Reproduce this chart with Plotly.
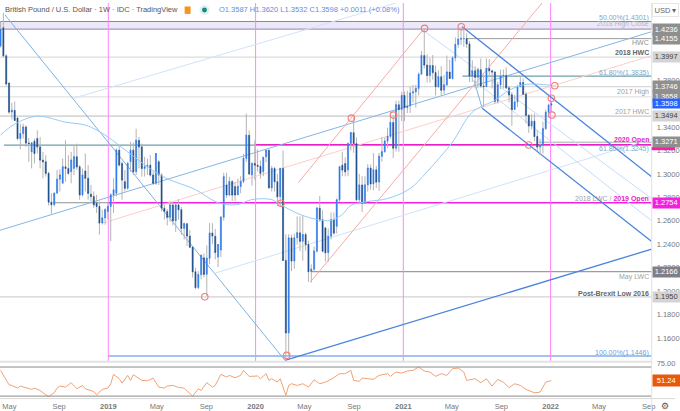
import pandas as pd
import plotly.graph_objects as go

# ---------- weekly GBP/USD candles ----------
first_week = "2018-04-09"
opens = [1.4093,1.4248,1.4008,1.3776,1.3528,1.3542,1.3477,1.3302,1.3344,1.3400,
1.3265,1.3188,1.3279,1.3302,1.3231,1.3118,1.3104,1.3005,1.2759,1.2737,
1.2835,1.2954,1.2920,1.3061,1.3047,1.3019,1.3047,1.3146,1.3061,1.2821,
1.3025,1.2963,1.2827,1.2807,1.2751,1.2722,1.2581,1.2624,1.2680,1.2722,
1.2821,1.2835,1.3203,1.3090,1.2934,1.2878,1.3104,1.3203,1.3019,1.3287,
1.3231,1.3047,1.3061,1.3075,1.2991,1.2920,1.3104,1.2991,1.2708,1.2680,
1.2630,1.2735,1.2600,1.2735,1.2695,1.2535,1.2575,1.2470,1.2375,1.2165,
1.2030,1.2140,1.2284,1.2143,1.2280,1.2496,1.2468,1.2290,1.2350,1.2630,
1.2906,1.2820,1.2935,1.2892,1.2821,1.2892,1.2935,1.3132,1.3330,1.2990,
1.3089,1.3075,1.3065,1.3019,1.3146,1.3202,1.2880,1.3047,1.2934,1.2805,
1.3047,1.2262,1.1643,1.2454,1.2256,1.2454,1.2497,1.2425,1.2482,1.2397,
1.2166,1.2186,1.2341,1.2708,1.2609,1.2540,1.2327,1.2468,1.2609,1.2553,
1.2779,1.3075,1.3089,1.3033,1.3259,1.3352,1.3259,1.2779,1.2906,1.2750,
1.2906,1.3050,1.2915,1.3035,1.2930,1.3150,1.3190,1.3280,1.3320,1.3440,
1.3220,1.3590,1.3550,1.3670,1.3565,1.3580,1.3690,1.3700,1.3730,1.3850,
1.4010,1.3930,1.3840,1.3925,1.3865,1.3745,1.3830,1.3715,1.3760,1.3870,
1.3815,1.3990,1.4105,1.4150,1.4155,1.4155,1.4110,1.3835,1.3880,1.3825,
1.3890,1.3750,1.3745,1.3900,1.3880,1.3870,1.3620,1.3760,1.3835,1.3840,
1.3735,1.3675,1.3550,1.3615,1.3745,1.3780,1.3680,1.3500,1.3410,1.3450,
1.3320,1.3230,1.3244,1.3386,1.3527,1.3587]
highs = [1.4304,1.4376,1.4022,1.3782,1.3607,1.3618,1.3485,1.3430,1.3429,1.3415,
1.3307,1.3273,1.3302,1.3372,1.3316,1.3188,1.3160,1.3019,1.2835,1.2835,
1.3033,1.3040,1.3132,1.3287,1.3160,1.3188,1.3245,1.3259,1.3075,1.3047,
1.3174,1.3075,1.2906,1.2850,1.2821,1.2765,1.2694,1.2708,1.2751,1.2835,
1.2963,1.3217,1.3245,1.3104,1.3033,1.3104,1.3273,1.3268,1.3386,1.3316,
1.3259,1.3146,1.3132,1.3160,1.3020,1.3174,1.3118,1.3005,1.2737,1.2700,
1.2770,1.2760,1.2740,1.2785,1.2720,1.2585,1.2580,1.2520,1.2380,1.2200,
1.2170,1.2310,1.2320,1.2390,1.2580,1.2580,1.2530,1.2400,1.2640,1.3010,
1.3010,1.2975,1.2950,1.2930,1.2960,1.2980,1.3170,1.3515,1.3370,1.3100,
1.3285,1.3210,1.3115,1.3150,1.3202,1.3210,1.3070,1.3060,1.3000,1.3050,
1.3200,1.2485,1.2486,1.2482,1.2490,1.2637,1.2637,1.2640,1.2498,1.2430,
1.2228,1.2380,1.2720,1.2812,1.2690,1.2540,1.2535,1.2670,1.2670,1.2790,
1.3070,1.3190,1.3140,1.3270,1.3360,1.3482,1.3310,1.3000,1.2980,1.2980,
1.3085,1.3080,1.3178,1.3070,1.3180,1.3315,1.3310,1.3395,1.3540,1.3502,
1.3625,1.3625,1.3700,1.3705,1.3710,1.3745,1.3760,1.3760,1.3865,1.4050,
1.4242,1.4020,1.3990,1.4015,1.3925,1.3885,1.3920,1.3845,1.4010,1.3975,
1.4005,1.4165,1.4235,1.4250,1.4250,1.4200,1.4135,1.3970,1.3920,1.3910,
1.3985,1.3840,1.3985,1.3980,1.3890,1.3880,1.3785,1.3890,1.3890,1.3910,
1.3750,1.3700,1.3675,1.3760,1.3835,1.3815,1.3700,1.3510,1.3510,1.3515,
1.3375,1.3300,1.3445,1.3550,1.3600,1.3620]
lows = [1.4078,1.3994,1.3754,1.3513,1.3465,1.3457,1.3287,1.3211,1.3302,1.3231,
1.3104,1.3047,1.3090,1.3175,1.3047,1.2963,1.2977,1.2731,1.2660,1.2722,
1.2835,1.2850,1.2920,1.2934,1.2991,1.2920,1.2991,1.3033,1.2779,1.2807,
1.2850,1.2779,1.2765,1.2708,1.2666,1.2482,1.2567,1.2567,1.2610,1.2426,
1.2666,1.2807,1.3061,1.2779,1.2850,1.2864,1.3019,1.2991,1.2991,1.3047,
1.2977,1.2977,1.2991,1.2977,1.2906,1.2906,1.2906,1.2680,1.2610,1.2560,
1.2590,1.2560,1.2505,1.2610,1.2480,1.2440,1.2385,1.2380,1.2115,1.2015,
1.2015,1.2100,1.2115,1.1958,1.2230,1.2400,1.2270,1.2205,1.2290,1.2600,
1.2795,1.2810,1.2770,1.2770,1.2820,1.2835,1.2920,1.3100,1.2990,1.2900,
1.2950,1.3020,1.2960,1.2980,1.3100,1.2870,1.2850,1.2850,1.2725,1.2725,
1.2260,1.1412,1.1450,1.2171,1.2190,1.2397,1.2340,1.2260,1.2345,1.2078,
1.2072,1.2165,1.2330,1.2590,1.2330,1.2252,1.2250,1.2440,1.2480,1.2490,
1.2760,1.2980,1.2980,1.2980,1.3200,1.3180,1.2765,1.2760,1.2675,1.2745,
1.2850,1.2865,1.2860,1.2880,1.2855,1.3105,1.3180,1.3220,1.3300,1.3135,
1.3190,1.3190,1.3450,1.3450,1.3520,1.3520,1.3610,1.3565,1.3670,1.3850,
1.3900,1.3780,1.3780,1.3805,1.3670,1.3735,1.3670,1.3680,1.3750,1.3815,
1.3805,1.3960,1.4075,1.4100,1.4085,1.4075,1.3785,1.3785,1.3730,1.3735,
1.3735,1.3570,1.3740,1.3825,1.3730,1.3600,1.3600,1.3725,1.3730,1.3725,
1.3610,1.3410,1.3545,1.3570,1.3740,1.3680,1.3430,1.3350,1.3380,1.3280,
1.3195,1.3160,1.3175,1.3375,1.3480,1.3532]
closes = [1.4234,1.4008,1.3768,1.3528,1.3542,1.3457,1.3302,1.3344,1.3400,1.3265,
1.3259,1.3265,1.3175,1.3231,1.3118,1.3104,1.3005,1.2759,1.2737,1.2835,
1.2954,1.2990,1.3061,1.3047,1.3005,1.3118,1.3146,1.3061,1.2821,1.2991,
1.2963,1.2835,1.2807,1.2737,1.2722,1.2581,1.2624,1.2694,1.2722,1.2821,
1.2864,1.3203,1.3076,1.2948,1.2878,1.3090,1.3203,1.3019,1.3287,1.3231,
1.3047,1.3061,1.3075,1.2991,1.2920,1.3174,1.2991,1.2708,1.2680,1.2630,
1.2735,1.2600,1.2735,1.2695,1.2535,1.2575,1.2470,1.2375,1.2165,1.2030,
1.2140,1.2305,1.2143,1.2280,1.2496,1.2470,1.2330,1.2397,1.2630,1.2976,
1.2820,1.2935,1.2820,1.2821,1.2892,1.2935,1.3132,1.3330,1.3000,1.3089,
1.3075,1.3065,1.3005,1.3140,1.3202,1.2883,1.3047,1.2934,1.2805,1.3047,
1.2262,1.1643,1.2454,1.2256,1.2454,1.2497,1.2425,1.2482,1.2397,1.2166,
1.2186,1.2341,1.2708,1.2609,1.2341,1.2327,1.2468,1.2609,1.2496,1.2779,
1.3061,1.3033,1.3019,1.3259,1.3352,1.3259,1.2779,1.2906,1.2750,1.2906,
1.3050,1.2915,1.3035,1.2930,1.3150,1.3190,1.3280,1.3320,1.3440,1.3220,
1.3590,1.3550,1.3670,1.3565,1.3580,1.3690,1.3700,1.3730,1.3850,1.4010,
1.3930,1.3840,1.3925,1.3865,1.3745,1.3830,1.3715,1.3760,1.3870,1.3815,
1.3990,1.4105,1.4150,1.4155,1.4155,1.4110,1.3835,1.3880,1.3825,1.3890,
1.3750,1.3745,1.3900,1.3880,1.3870,1.3620,1.3760,1.3835,1.3840,1.3735,
1.3675,1.3550,1.3615,1.3745,1.3780,1.3680,1.3500,1.3410,1.3450,1.3320,
1.3230,1.3244,1.3386,1.3527,1.3587,1.3598]

# moving average (week number, price)
ma_weeks = [0,5,13,23,30,34,38,45,53,59,69,76,80,84,89,96,99,106,112,117,121,124,130,137,145,151,160,167,175,180,186,195]
ma_vals = [1.3332,1.3425,1.3493,1.3442,1.3417,1.3375,1.3315,1.3188,1.3044,1.2959,1.2866,1.2764,1.2739,1.2739,1.2781,1.2781,1.2739,1.2654,1.2612,1.2603,1.2654,1.2731,1.2764,1.2790,1.2875,1.3019,1.3273,1.3527,1.3629,1.3714,1.3764,1.3756]

# RSI (week number, value)
rsi_weeks = [0,1,3,4,6,7,9,11,12,14,16,17,19,20,21,23,25,27,29,30,33,34,36,38,39,40,42,43,45,46,47,50,52,54,56,58,59,61,63,65,68,70,71,73,75,76,78,80,81,83,85,86,88,91,92,94,95,96,98,99,101,102,103,105,107,109,111,113,115,117,120,122,124,125,127,128,130,132,134,137,138,140,142,144,146,148,150,152,154,156,158,160,162,164,165,168,170,172,174,176,178,180,182,184,186,189,191,193,195]
rsi_vals = [65.4,58.5,45.6,44.7,41.0,43.8,41.0,39.2,41.0,37.8,31.8,29.5,34.6,41.0,43.8,42.4,48.4,40.1,44.7,40.1,36.4,31.8,39.2,41.0,47.0,59.9,53.9,47.9,58.5,51.6,59.4,51.6,51.1,54.8,42.4,41.0,43.8,44.7,41.9,41.0,30.0,40.1,37.8,48.4,42.4,44.7,59.9,56.2,58.5,55.3,58.5,65.4,57.1,57.6,53.9,60.8,51.6,53.9,49.3,53.9,30.9,44.7,47.0,44.7,47.0,42.4,52.5,47.0,49.3,53.0,60.8,60.8,65.4,51.6,50.2,54.8,53.9,53.0,58.5,60.8,57.1,63.1,61.7,64.5,65.4,70.0,64.5,63.1,57.1,60.8,58.5,67.7,68.6,63.1,51.6,53.9,48.4,53.9,43.8,53.0,49.3,41.5,47.0,44.7,39.2,34.6,35.5,49.3,51.24]

# pivot markers (week number, price)
pivot_weeks = [72.3,101.3,99.3,124.2,139.1,150.1,163.1,187.0,196.2,195.0,195.2]
pivot_vals = [1.1951,1.1451,1.2750,1.3476,1.3502,1.4242,1.4256,1.3247,1.3753,1.3646,1.3502]

# drawn trendlines: week0, price0, week1, price1, colour, width
W_L, W_R = -0.2, 230.5
P_LO, P_HI = 1.14, 1.4459
trendlines = [
    (1.55,1.4358,100.7,1.1408,"#7db1e3",1),
    (100.7,1.1408,230.5,1.2358,"#4a84de",1.3),
    (-0.2,1.2519,230.5,1.4214,"#86b5e6",1),
    (75.8,1.2152,230.5,1.3298,"#cfe2fb",1),
    (25.9,1.3646,140,1.4459,"#cfe2fb",1),
    (36.2,1.2581,230.5,1.4010,"#fbcfca",1),
    (105.4,1.2925,149.6,1.4231,"#f9a9a2",1),
    (109.7,1.2078,191.7,1.4459,"#f9a9a2",1),
    (163.4,1.4256,230.5,1.2976,"#4a84de",1.3),
    (170.5,1.3561,230.4,1.2425,"#4a84de",1.3),
    (167.6,1.3798,170.5,1.3561,"#7db1e3",1),
    (149.3,1.4231,230.5,1.2790,"#c6dcf8",1),
    (167.6,1.3798,230.5,1.2599,"#c6dcf8",1),
]
# horizontal levels: price, week0, week1, colour, width
levels = [
    (1.4155,164.8,W_R,"#9b9b9b",1),
    (1.3997,W_L,W_R,"#d2d2d2",1),
    (1.3835,163.5,W_R,"#6f9fa8",1.2),
    (1.3746,W_L,W_R,"#d8d8d8",1.2),
    (1.3658,W_L,W_R,"#e2e2e2",1.2),
    (1.3494,W_L,W_R,"#d8d8d8",1.8),
    (1.3271,190.6,W_R,"#a8a8a8",1),
    (1.3245,1.2,W_R,"#6f9fa8",1.2),
    (1.3250,89.8,W_R,"#e81fc8",1.3),
    (1.2754,18.5,38,"#909090",1),
    (1.2754,38,W_R,"#f51fe0",1.3),
    (1.2166,110,W_R,"#9a9aa8",1.2),
    (1.1950,W_L,W_R,"#d2d2d2",1.2),
    (1.1446,38,W_R,"#4a86d8",1.2),
]
year_lines = ["2019-01-01","2020-01-01","2021-01-01","2022-01-01"]

tick_dates = ["2018-05-01","2018-09-01","2019-01-01","2019-05-01","2019-09-01","2020-01-01","2020-05-01",
              "2020-09-01","2021-01-01","2021-05-01","2021-09-01","2022-01-01","2022-05-01","2022-09-01"]
tick_names = ["May","Sep","<b>2019</b>","May","Sep","<b>2020</b>","May","Sep","<b>2021</b>","May","Sep","<b>2022</b>","May","Sep"]
price_ticks = [1.16,1.18,1.20,1.22,1.24,1.26,1.28,1.30,1.32,1.34,1.38]

# chart labels: text, price, colour
level_notes = [
    ("50.00%(1.4301)",1.4332,"#7fa6c8"),
    ("2018 High Close",1.4277,"#b8b8b8"),
    ("HWC",1.4120,"#909090"),
    ("<b>2018 HWC</b>",1.4040,"#666666"),
    ("61.80%(1.3835)",1.3862,"#7fa6c8"),
    ("2017 High",1.3697,"#a0a0a0"),
    ("2017 HWC",1.3531,"#a0a0a0"),
    ("<b>2020 Open</b>",1.3290,"#e81fc8"),
    ("61.80%(1.3245)",1.3214,"#7fa6c8"),
    ("2018 LWC / <b><span style='color:#e81fc8'>2019 Open</span></b>",1.2790,"#a0a0a0"),
    ("May LWC",1.2120,"#a0a0a0"),
    ("<b>Post-Brexit Low 2016</b>",1.1981,"#666666"),
    ("100.00%(1.1446)",1.1468,"#6d9fde"),
]
# price-scale badges: text, price, background, text colour, height
badges = [
    ("1.4236",1.4236,"#8f8f8f","#ffffff",10.5),
    ("1.4155",1.4155,"#8f8f8f","#ffffff",10.5),
    ("1.3997",1.3997,"#d4d4d4","#444444",9.5),
    ("1.3746",1.3746,"#8f8f8f","#ffffff",11),
    ("1.3658",1.3658,"#8f8f8f","#ffffff",11),
    ("1.3494",1.3494,"#d4d4d4","#444444",9.5),
    ("1.3271",1.3271,"#8f8f8f","#ffffff",9.5),
    ("1.2754",1.2754,"#f51fe0","#ffffff",9.5),
    ("1.2166",1.2166,"#7f7f8a","#ffffff",9.5),
    ("1.1950",1.1950,"#d4d4d4","#444444",9.5),
]

# ---------- figure ----------
WIDTH, HEIGHT = 680, 411
PANE_R = 656.5
PLOT_R = PANE_R / WIDTH
start = pd.Timestamp(first_week)
def wk(i):
    return start + pd.Timedelta(days=7 * i)

weeks = [wk(i) for i in range(len(closes))]
fig = go.Figure()

# grey wicks, then coloured bodies on top
fig.add_trace(go.Candlestick(x=weeks, open=closes, close=closes, high=highs, low=lows,
    whiskerwidth=0, hoverinfo="skip", showlegend=False,
    increasing=dict(line=dict(color="#b4b4b4", width=1), fillcolor="#b4b4b4"),
    decreasing=dict(line=dict(color="#b4b4b4", width=1), fillcolor="#b4b4b4")))
fig.add_trace(go.Candlestick(x=weeks, open=opens, close=closes,
    high=[max(o, c) for o, c in zip(opens, closes)],
    low=[min(o, c) for o, c in zip(opens, closes)],
    whiskerwidth=0, hoverinfo="skip", showlegend=False,
    increasing=dict(line=dict(color="#2f7cf0", width=0.5), fillcolor="#2f7cf0"),
    decreasing=dict(line=dict(color="#20508f", width=0.5), fillcolor="#20508f")))

fig.add_trace(go.Scatter(x=[wk(i) for i in ma_weeks], y=ma_vals, mode="lines", hoverinfo="skip",
    line=dict(color="#94cbf7", width=1, shape="spline"), showlegend=False))
fig.add_trace(go.Scatter(x=[wk(i) for i in pivot_weeks], y=pivot_vals, mode="markers", hoverinfo="skip",
    marker=dict(symbol="circle-open", size=6.5, color="#ef7f78", line=dict(width=1.1, color="#ef7f78")),
    showlegend=False))
fig.add_trace(go.Scatter(x=[wk(i) for i in rsi_weeks], y=rsi_vals, yaxis="y2", mode="lines", hoverinfo="skip",
    line=dict(color="#f3a173", width=1), showlegend=False))

shapes = []
shapes.append(dict(type="rect", xref="x", yref="y", x0=wk(W_L), x1=wk(W_R), y0=1.4236, y1=1.4301,
                   fillcolor="#ece8f7", line=dict(color="#9180b8", width=1), layer="below"))
for y, a, b, col, w in levels:
    shapes.append(dict(type="line", xref="x", yref="y", x0=wk(a), x1=wk(b), y0=y, y1=y,
                       line=dict(color=col, width=w), layer="below"))
for d in year_lines:
    shapes.append(dict(type="line", xref="x", yref="y", x0=d, x1=d, y0=P_LO, y1=P_HI,
                       line=dict(color="#ff85ff", width=1), layer="below"))
for a, p, b, q, col, w in trendlines:
    shapes.append(dict(type="line", xref="x", yref="y", x0=wk(a), x1=wk(b), y0=p, y1=q,
                       line=dict(color=col, width=w), layer="below"))
for v in (70, 30):
    shapes.append(dict(type="line", xref="x", yref="y2", x0=wk(W_L), x1=wk(W_R), y0=v, y1=v,
                       line=dict(color="#8a8a8a", width=1)))
# pane frames
shapes.append(dict(type="line", xref="paper", yref="paper", x0=0, x1=PLOT_R, y0=1-361.5/HEIGHT, y1=1-361.5/HEIGHT,
                   line=dict(color="#e2e2e2", width=2)))
shapes.append(dict(type="line", xref="paper", yref="paper", x0=0, x1=1, y0=1-398.5/HEIGHT, y1=1-398.5/HEIGHT,
                   line=dict(color="#d8d8d8", width=1)))
shapes.append(dict(type="line", xref="paper", yref="paper", x0=PLOT_R, x1=PLOT_R, y0=0, y1=1,
                   line=dict(color="#e2e2e2", width=1)))
# sliver of the magenta 2020-open badge under the grey one
shapes.append(dict(type="rect", xref="paper", yref="paper", x0=PLOT_R, x1=1, y0=1-148.3/HEIGHT, y1=1-145/HEIGHT,
                   fillcolor="#f51fa8", line=dict(width=0)))
# header icons
shapes.append(dict(type="rect", xref="paper", yref="paper", x0=186/WIDTH, x1=192/WIDTH, y0=1-11/HEIGHT, y1=1-3.5/HEIGHT,
                   fillcolor="#f7941d", line=dict(width=0)))
shapes.append(dict(type="circle", xref="paper", yref="paper", x0=201/WIDTH, x1=211/WIDTH, y0=1-12/HEIGHT, y1=1-2/HEIGHT,
                   fillcolor="#e6eef0", line=dict(width=0)))
shapes.append(dict(type="circle", xref="paper", yref="paper", x0=203.5/WIDTH, x1=208.5/WIDTH, y0=1-9.5/HEIGHT, y1=1-4.5/HEIGHT,
                   fillcolor="#0f8f80", line=dict(width=0)))

FONT = "Liberation Sans"
BADGE_X = 657 / WIDTH
ann = []
for text, y, col in level_notes:
    ann.append(dict(text=text, xref="paper", yref="y", x=656/WIDTH, y=y, xanchor="right", yanchor="middle",
                    showarrow=False, font=dict(size=7, color=col, family=FONT)))
for text, y, bg, fg, h in badges:
    ann.append(dict(text=text, xref="paper", yref="y", x=BADGE_X, y=y, xanchor="left", yanchor="middle",
                    width=26.5, height=h, bgcolor=bg, borderpad=0, align="center", showarrow=False,
                    font=dict(size=7.5, color=fg, family=FONT)))
ann.append(dict(text="1.3598", xref="paper", yref="y", x=BADGE_X, y=closes[-1], xanchor="left", yanchor="middle",
                width=26.5, height=8.5, bgcolor="#2962ff", borderpad=0, align="center", showarrow=False,
                font=dict(size=7.5, color="#ffffff", family=FONT)))
ann.append(dict(text="51.24", xref="paper", yref="y2", x=BADGE_X, y=rsi_vals[-1], xanchor="left", yanchor="middle",
                width=26.5, height=10.5, bgcolor="#e8590c", borderpad=0, align="center", showarrow=False,
                font=dict(size=7.5, color="#ffffff", family=FONT)))
ann.append(dict(text="British Pound / U.S. Dollar · 1W · IDC · TradingView", xref="paper", yref="paper",
                x=3/WIDTH, y=1-7/HEIGHT, xanchor="left", yanchor="middle", showarrow=False,
                font=dict(size=7.5, color="#555555", family=FONT)))
ann.append(dict(text="O1.3587 H1.3620 L1.3532 C1.3598 +0.0011 (+0.08%)", xref="paper", yref="paper",
                x=219/WIDTH, y=1-7/HEIGHT, xanchor="left", yanchor="middle", showarrow=False,
                font=dict(size=7.5, color="#5b8fe0", family=FONT)))
ann.append(dict(text="USD ▾", xref="paper", yref="paper", x=670/WIDTH, y=1-7/HEIGHT, xanchor="center", yanchor="middle",
                showarrow=False, bgcolor="#ffffff", bordercolor="#e6e6e6", borderwidth=1, borderpad=1.5,
                font=dict(size=7.5, color="#666666", family=FONT)))
ann.append(dict(text="⚙", xref="paper", yref="paper", x=670/WIDTH, y=1-406/HEIGHT, xanchor="center", yanchor="middle",
                showarrow=False, font=dict(size=9, color="#555555", family="DejaVu Sans")))

fig.update_layout(
    width=WIDTH, height=HEIGHT, autosize=False,
    margin=dict(l=0, r=0, t=0, b=0, pad=0), boxgap=0.42,
    paper_bgcolor="#ffffff", plot_bgcolor="#ffffff", showlegend=False,
    font=dict(family=FONT, size=7.5, color="#787878"),
    xaxis=dict(domain=[0, PLOT_R], anchor="y2", range=[wk(W_L), wk(W_R)], type="date", rangeslider=dict(visible=False),
               tickmode="array", tickvals=tick_dates, ticktext=tick_names, ticks="", showgrid=False, zeroline=False,
               showline=False, ticklabelstandoff=2, tickfont=dict(size=7.5, color="#787878", family=FONT)),
    yaxis=dict(domain=[1-361/HEIGHT, 1], anchor="x", side="right", range=[P_LO, P_HI], tickmode="array",
               tickvals=price_ticks, ticktext=[f"{v:.4f}" for v in price_ticks], ticks="", showgrid=False,
               zeroline=False, showline=False, ticklabelstandoff=4,
               tickfont=dict(size=7.5, color="#787878", family=FONT)),
    yaxis2=dict(domain=[1-398.5/HEIGHT, 1-362/HEIGHT], anchor="x", side="right", range=[26.6, 76.4], tickmode="array",
                tickvals=[75], ticktext=["75.00"], ticks="", showgrid=False, zeroline=False, showline=False,
                ticklabelstandoff=4, tickfont=dict(size=7.5, color="#787878", family=FONT)),
    shapes=shapes, annotations=ann,
)
fig.write_html("out.html", config={"displayModeBar": False},
               post_script="document.documentElement.style.margin='0';document.body.style.margin='0';document.body.style.overflow='hidden';")
